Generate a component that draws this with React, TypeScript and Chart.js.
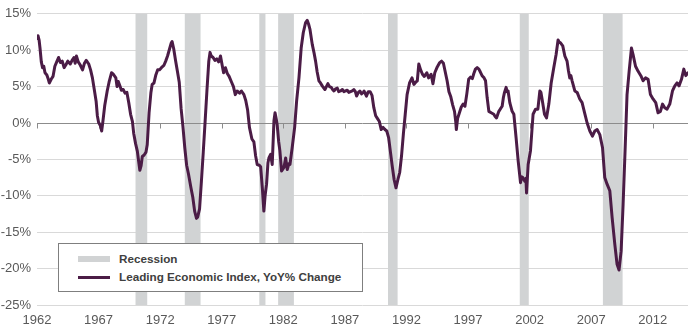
import React, { useEffect, useRef } from "react";
import { Chart, registerables } from "chart.js";

Chart.register(...registerables);

// ---- Data ----
const lineYears: number[] = [
  1962.0, 1962.08, 1962.17, 1962.25, 1962.35, 1962.45, 1962.55, 1962.65, 1962.8, 1962.92,
  1963.0, 1963.15, 1963.3, 1963.45, 1963.6, 1963.75, 1963.9, 1964.05, 1964.2, 1964.35,
  1964.5, 1964.7, 1964.85, 1965.0, 1965.1, 1965.2, 1965.35, 1965.5, 1965.7, 1965.85,
  1966.0, 1966.2, 1966.35, 1966.5, 1966.65, 1966.8, 1966.9, 1967.0, 1967.15, 1967.25,
  1967.35, 1967.5, 1967.7, 1967.85, 1968.05, 1968.2, 1968.4, 1968.5, 1968.6, 1968.75,
  1968.85, 1969.0, 1969.15, 1969.3, 1969.45, 1969.6, 1969.75, 1969.85, 1970.0, 1970.15,
  1970.28, 1970.35, 1970.45, 1970.55, 1970.7, 1970.85, 1970.95, 1971.1, 1971.25, 1971.35,
  1971.5, 1971.65, 1971.8, 1971.95, 1972.1, 1972.3, 1972.45, 1972.6, 1972.75, 1972.9,
  1972.97, 1973.1, 1973.25, 1973.4, 1973.55, 1973.7, 1973.85, 1974.0, 1974.15, 1974.3,
  1974.5, 1974.65, 1974.8, 1974.95, 1975.05, 1975.2, 1975.35, 1975.5, 1975.65, 1975.8,
  1975.95, 1976.05, 1976.15, 1976.3, 1976.45, 1976.6, 1976.75, 1976.9, 1977.05, 1977.15,
  1977.3, 1977.45, 1977.6, 1977.8, 1977.95, 1978.1, 1978.25, 1978.45, 1978.6, 1978.8,
  1978.95, 1979.1, 1979.25, 1979.45, 1979.61, 1979.75, 1979.88, 1980.05, 1980.16, 1980.3,
  1980.42, 1980.52, 1980.64, 1980.75, 1980.83, 1980.97, 1981.1, 1981.24, 1981.33, 1981.43,
  1981.5, 1981.62, 1981.72, 1981.86, 1982.05, 1982.19, 1982.32, 1982.45, 1982.54, 1982.72,
  1982.92, 1983.08, 1983.27, 1983.45, 1983.62, 1983.81, 1983.94, 1984.05, 1984.16, 1984.35,
  1984.5, 1984.62, 1984.75, 1984.89, 1985.02, 1985.16, 1985.38, 1985.62, 1985.75, 1985.89,
  1986.0, 1986.11, 1986.25, 1986.38, 1986.5, 1986.65, 1986.8, 1986.92, 1987.05, 1987.19,
  1987.32, 1987.46, 1987.6, 1987.73, 1987.85, 1987.95, 1988.1, 1988.22, 1988.35, 1988.49,
  1988.55, 1988.75, 1988.9, 1989.05, 1989.2, 1989.35, 1989.5, 1989.65, 1989.8, 1989.95,
  1990.1, 1990.25, 1990.4, 1990.55, 1990.7, 1990.85, 1991.0, 1991.15, 1991.3, 1991.45,
  1991.6, 1991.75, 1991.9, 1992.05, 1992.25, 1992.45, 1992.6, 1992.75, 1992.88, 1993.0,
  1993.15, 1993.3, 1993.45, 1993.65, 1993.8, 1994.0, 1994.15, 1994.3, 1994.5, 1994.7,
  1994.85, 1995.0, 1995.15, 1995.3, 1995.45, 1995.6, 1995.75, 1995.9, 1996.0, 1996.05,
  1996.15, 1996.3, 1996.45, 1996.6, 1996.75, 1996.9, 1997.05, 1997.2, 1997.35, 1997.47,
  1997.6, 1997.74, 1997.88, 1998.0, 1998.14, 1998.3, 1998.42, 1998.55, 1998.69, 1998.88,
  1999.09, 1999.2, 1999.31, 1999.5, 1999.65, 1999.77, 1999.87, 1999.96, 2000.09, 2000.17,
  2000.25, 2000.39, 2000.58, 2000.72, 2000.9, 2001.07, 2001.26, 2001.35, 2001.45, 2001.61,
  2001.7, 2001.75, 2001.88, 2002.07, 2002.28, 2002.48, 2002.67, 2002.83, 2002.92, 2003.01,
  2003.21, 2003.37, 2003.56, 2003.75, 2003.96, 2004.15, 2004.31, 2004.4, 2004.51, 2004.69,
  2004.86, 2005.04, 2005.15, 2005.26, 2005.35, 2005.45, 2005.67, 2005.86, 2006.07, 2006.26,
  2006.48, 2006.67, 2006.89, 2007.1, 2007.29, 2007.48, 2007.7, 2007.92, 2008.1, 2008.29,
  2008.51, 2008.7, 2008.92, 2009.1, 2009.26, 2009.43, 2009.59, 2009.75, 2009.91, 2010.08,
  2010.27, 2010.4, 2010.6, 2010.81, 2011.03, 2011.21, 2011.41, 2011.62, 2011.81, 2012.02,
  2012.24, 2012.43, 2012.62, 2012.79, 2012.97, 2013.16, 2013.38, 2013.6, 2013.79, 2013.97,
  2014.13, 2014.33, 2014.52, 2014.68, 2014.86,
];

const lineValues: number[] = [
  11.6, 12.0, 11.4, 10.2, 8.4, 7.6, 7.8, 6.9, 6.6, 6.0,
  5.5, 6.0, 6.4, 7.8, 8.4, 9.0, 8.3, 8.5, 7.6, 8.0,
  8.5, 8.1, 8.6, 9.0, 8.2, 9.2, 8.4, 8.0, 7.3, 8.2,
  8.6, 8.1, 7.3, 6.2, 4.6, 3.0, 1.0, 0.1, -0.4, -1.1,
  0.2, 2.4, 4.4, 5.6, 6.9, 6.7, 6.2, 5.0, 5.7, 5.0,
  4.5, 4.6, 4.1, 4.2, 2.8, 1.2, 0.2, -1.4, -2.8, -3.9,
  -5.6, -6.5, -5.9, -4.6, -4.4, -4.0, -3.0, 1.4, 4.2, 5.3,
  5.5, 6.6, 7.3, 7.3, 7.6, 7.9, 8.5, 9.2, 10.1, 11.0,
  11.2, 10.2, 8.6, 7.1, 5.6, 2.0, -0.5, -3.4, -5.8, -7.0,
  -8.9, -10.2, -12.1, -13.1, -12.9, -11.8, -8.0, -4.0, 0.2, 4.5,
  8.5, 9.7, 9.2, 9.0, 8.6, 8.8, 8.4, 9.2, 7.8, 6.9,
  7.6, 6.8, 6.4, 5.6, 5.0, 3.9, 4.4, 4.1, 4.4, 3.9,
  3.1, 1.8, -0.6, -2.2, -2.6, -4.5, -5.7, -5.8, -6.0, -9.0,
  -12.1, -10.0, -8.4, -5.5, -4.8, -4.3, -5.7, 0.3, 1.4, 0.5,
  -0.2, -2.5, -3.8, -6.6, -6.1, -4.8, -6.4, -5.6, -5.7, -3.4,
  -0.6, 3.0, 6.2, 10.3, 12.4, 13.8, 14.1, 13.6, 12.9, 10.8,
  9.6, 8.5, 7.0, 5.8, 5.5, 5.1, 4.6, 5.4, 5.0, 4.9,
  4.6, 4.4, 4.7, 4.8, 4.3, 4.4, 4.6, 4.3, 4.4, 4.5,
  4.2, 4.3, 4.4, 4.6, 4.3, 3.7, 4.2, 4.4, 4.0, 4.2,
  4.4, 3.7, 4.3, 4.3, 3.8, 2.1, 1.0, 0.6, 0.2, -0.9,
  -0.6, -0.9, -1.1, -2.0, -4.0, -6.0, -7.8, -8.9, -7.8, -6.8,
  -4.5, -1.5, 1.2, 3.9, 5.5, 6.2, 5.3, 5.6, 5.8, 8.1,
  7.3, 6.7, 6.4, 6.9, 6.2, 6.7, 5.4, 6.9, 7.7, 8.3,
  8.5, 8.2, 7.0, 5.8, 4.3, 3.6, 2.5, 1.6, 0.2, -0.9,
  0.6, 1.4, 2.2, 2.6, 2.3, 4.0, 6.0, 6.3, 6.1, 6.8,
  7.4, 7.6, 7.4, 7.0, 6.5, 6.2, 5.8, 3.5, 1.6, 1.4,
  1.2, 0.9, 0.7, 1.6, 2.0, 2.3, 3.5, 4.2, 4.9, 4.3,
  4.4, 2.8, 1.6, 1.2, -2.0, -5.2, -8.2, -7.4, -7.5, -8.0,
  -7.6, -9.6, -5.7, -3.8, 1.2, 1.9, 1.9, 4.4, 4.2, 3.3,
  1.2, 0.7, 2.6, 5.5, 7.6, 9.4, 11.4, 11.1, 11.0, 10.6,
  9.2, 8.5, 7.2, 6.2, 6.5, 5.8, 4.4, 4.2, 3.3, 2.8,
  1.3, 0.0, -1.1, -1.8, -1.1, -0.9, -1.6, -3.4, -7.5, -8.4,
  -9.3, -13.0, -16.7, -19.4, -20.2, -17.6, -11.2, -3.8, 3.9, 7.1,
  10.3, 9.4, 7.8, 7.1, 6.5, 5.8, 6.2, 6.0, 3.9, 3.3,
  2.8, 1.4, 1.6, 2.6, 2.1, 1.9, 2.6, 4.4, 5.1, 5.5,
  5.1, 6.0, 7.4, 6.5, 6.9,
];

const recessionStarts: number[] = [1970.0, 1974.0, 1980.05, 1981.58, 1990.5, 2001.2, 2007.95];
const recessionEnds: number[] = [1970.95, 1975.28, 1980.55, 1982.86, 1991.28, 2001.93, 2009.55];

const xTickYears: number[] = [1962, 1967, 1972, 1977, 1982, 1987, 1992, 1997, 2002, 2007, 2012];
const xMin = 1962;
const xMax = 2014.86;
const yMin = -25;
const yMax = 15;
const yStep = 5;

const seriesLabel = "Leading Economic Index, YoY% Change";
const recessionLabel = "Recession";

const LINE_COLOR = "#4b1c46";
const BAND_COLOR = "#d1d3d4";
const FONT = "'Liberation Sans', Arial, Helvetica, sans-serif";

export default function App() {
  const canvasRef = useRef<HTMLCanvasElement | null>(null);

  useEffect(() => {
    const canvas = canvasRef.current;
    if (!canvas) return;

    const bandsPlugin = {
      id: "recessionBands",
      beforeDatasetsDraw(chart: any) {
        const { ctx, chartArea, scales } = chart;
        const x = scales.x;
        const y = scales.y;
        ctx.save();
        ctx.fillStyle = BAND_COLOR;
        recessionStarts.forEach((s, i) => {
          const x0 = x.getPixelForValue(s);
          const x1 = x.getPixelForValue(recessionEnds[i]);
          ctx.fillRect(x0, chartArea.top, x1 - x0, chartArea.bottom - chartArea.top);
        });
        const y0 = Math.round(y.getPixelForValue(0)) + 0.5;
        ctx.strokeStyle = "#8c8c8c";
        ctx.lineWidth = 1;
        ctx.beginPath();
        ctx.moveTo(chartArea.left, y0);
        ctx.lineTo(chartArea.right, y0);
        xTickYears.forEach((t) => {
          const px = Math.round(x.getPixelForValue(t)) + 0.5;
          ctx.moveTo(px, y0);
          ctx.lineTo(px, y0 + 5);
        });
        ctx.stroke();
        ctx.restore();
      },
    };

    const chart = new Chart(canvas, {
      type: "line",
      data: {
        datasets: [
          {
            label: seriesLabel,
            data: lineYears.map((yr, i) => ({ x: yr, y: lineValues[i] })),
            borderColor: LINE_COLOR,
            backgroundColor: LINE_COLOR,
            borderWidth: 3,
            pointRadius: 0,
            tension: 0,
            fill: false,
            borderJoinStyle: "round",
            borderCapStyle: "round",
          },
        ],
      },
      options: {
        animation: false,
        responsive: false,
        devicePixelRatio: 1,
        layout: { padding: { top: 13, right: 2, left: 0, bottom: 0 } },
        plugins: {
          legend: { display: false },
          tooltip: { enabled: false },
        },
        scales: {
          x: {
            type: "linear",
            min: xMin,
            max: xMax,
            afterBuildTicks: (scale: any) => {
              scale.ticks = xTickYears.map((v) => ({ value: v }));
            },
            afterFit: (scale: any) => {
              scale.height = 21;
            },
            ticks: {
              autoSkip: false,
              maxRotation: 0,
              padding: 8,
              color: "#595959",
              font: { family: FONT, size: 13 },
              callback: (v: any) => String(v),
            },
            grid: { display: false, drawTicks: false },
            border: { display: false },
          },
          y: {
            min: yMin,
            max: yMax,
            afterFit: (scale: any) => {
              scale.width = 37;
            },
            ticks: {
              stepSize: yStep,
              padding: 6,
              color: "#595959",
              font: { family: FONT, size: 13 },
              callback: (v: any) => `${v}%`,
            },
            grid: {
              drawTicks: false,
              lineWidth: 1,
              color: (ctx: any) =>
                ctx.tick && ctx.tick.value === 0 ? "rgba(0,0,0,0)" : "#d9d9d9",
            },
            border: { display: false },
          },
        },
      },
      plugins: [bandsPlugin],
    } as any);

    return () => chart.destroy();
  }, []);

  const legendText: React.CSSProperties = {
    position: "absolute",
    left: 119,
    fontFamily: FONT,
    fontWeight: "bold",
    fontSize: "11.7px",
    lineHeight: "14px",
    color: "#404040",
    whiteSpace: "nowrap",
  };

  return (
    <div style={{ position: "relative", width: 690, height: 326, overflow: "hidden", background: "#fff" }}>
      <style>{`body{margin:0;background:#fff;}`}</style>
      <canvas ref={canvasRef} width={690} height={326} style={{ display: "block", width: 690, height: 326 }} />
      <div
        style={{
          position: "absolute",
          left: 58,
          top: 243,
          width: 303,
          height: 47,
          background: "#fff",
          border: "1px solid #7f7f7f",
        }}
      />
      <div style={{ position: "absolute", left: 78, top: 256, width: 32, height: 6, background: BAND_COLOR }} />
      <div style={{ ...legendText, top: 251.6 }}>{recessionLabel}</div>
      <div style={{ position: "absolute", left: 78, top: 275.5, width: 32, height: 3, background: LINE_COLOR }} />
      <div style={{ ...legendText, top: 269.6 }}>{seriesLabel}</div>
    </div>
  );
}
